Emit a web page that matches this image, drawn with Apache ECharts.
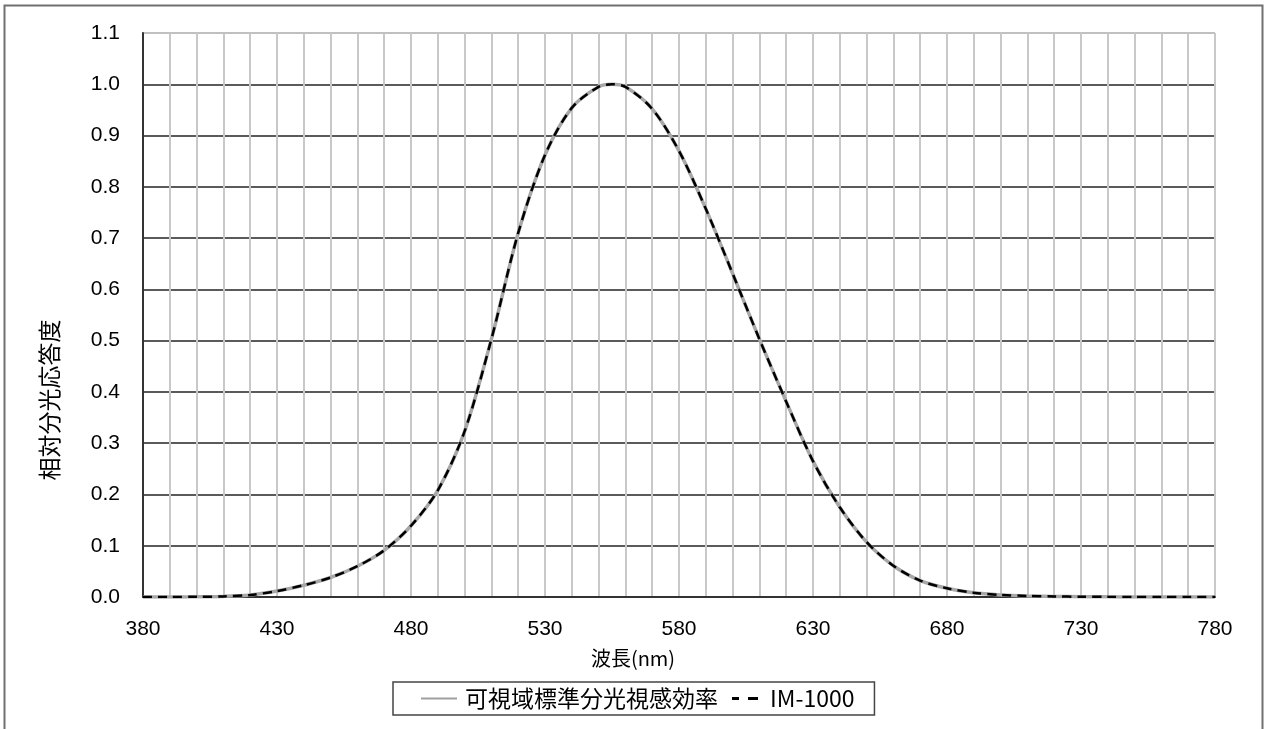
<!DOCTYPE html>
<html>
<head>
<meta charset="utf-8">
<script src="https://cdn.jsdelivr.net/npm/echarts@6/dist/echarts.min.js"></script>
<style>
	html, body { margin: 0; padding: 0; background: #fff; }
	#main { width: 1264px; height: 729px; }
</style>
</head>
<body>
<div id="main"></div>
<script>
// 波長 (nm)
const wavelengths = [380, 390, 400, 410, 420, 430, 440, 450, 460, 470, 480, 490, 500, 510, 520, 530, 540, 550, 555, 560, 570, 580, 590, 600, 610, 620, 630, 640, 650, 660, 670, 680, 690, 700, 710, 720, 730, 740, 750, 760, 770, 780];
// 可視域標準分光視感効率
const standardV = [0.00004, 0.00012, 0.0004, 0.0012, 0.004, 0.0116, 0.023, 0.038, 0.06, 0.091, 0.139, 0.208, 0.323, 0.503, 0.71, 0.862, 0.954, 0.995, 1.0, 0.995, 0.952, 0.87, 0.757, 0.631, 0.503, 0.381, 0.265, 0.175, 0.107, 0.061, 0.032, 0.017, 0.0082, 0.0041, 0.0021, 0.00105, 0.00052, 0.00025, 0.00012, 0.00006, 0.00003, 0.000015];
// IM-1000
const im1000 = [0.00004, 0.00012, 0.0004, 0.0012, 0.004, 0.0116, 0.023, 0.038, 0.06, 0.091, 0.139, 0.208, 0.323, 0.503, 0.71, 0.862, 0.954, 0.995, 1.0, 0.995, 0.952, 0.87, 0.757, 0.631, 0.503, 0.381, 0.265, 0.175, 0.107, 0.061, 0.032, 0.017, 0.0082, 0.0041, 0.0021, 0.00105, 0.00052, 0.00025, 0.00012, 0.00006, 0.00003, 0.000015];

const labelFont = "'Liberation Sans', Arial, 'Noto Sans CJK JP', sans-serif";
const jpFont = "'Noto Sans CJK JP', sans-serif";

// 水平グリッド: 最上段だけ薄いグレー
const hLineColors = [];
for (let i = 0; i < 11; i++) hLineColors.push("#5a5a5a");
hLineColors.push("#c0c0c0");

// 凡例アイコン (40x14 の枠に合わせるため四隅に極小の点を入れる)
const iconBox = "M0,0 L0.01,0 L0,0.01 Z M40,14 L39.99,14 L40,13.99 Z ";
const solidIcon = "path://" + iconBox + "M1,6 L37,6 L37,8 L1,8 Z";
const dashIcon = "path://" + iconBox + "M7,5.6 L14,5.6 L14,8.4 L7,8.4 Z M23,5.6 L33,5.6 L33,8.4 L23,8.4 Z";

const chartDom = document.getElementById("main");
const myChart = echarts.init(chartDom);

const option = {
	animation: false,
	backgroundColor: "#fff",
	grid: {
		left: 143,
		right: 49,
		top: 33,
		bottom: 132
	},
	xAxis: {
		type: "value",
		min: 380,
		max: 780,
		interval: 50,
		axisLine: { show: true, lineStyle: { color: "#333", width: 2 } },
		axisTick: { show: false },
		axisLabel: { fontFamily: labelFont, fontSize: 21, color: "#000", margin: 22 },
		splitLine: { show: true, lineStyle: { color: "#c8c8c8", width: 2 } },
		minorTick: { show: false, splitNumber: 5 },
		minorSplitLine: { show: true, lineStyle: { color: "#c8c8c8", width: 2 } }
	},
	yAxis: {
		type: "value",
		min: 0,
		max: 1.1,
		interval: 0.1,
		axisLine: { show: true, lineStyle: { color: "#333", width: 2 } },
		axisTick: { show: false },
		axisLabel: {
			fontFamily: labelFont,
			fontSize: 21,
			color: "#000",
			margin: 23,
			formatter: v => v.toFixed(1)
		},
		splitLine: { show: true, lineStyle: { color: hLineColors, width: 2 } }
	},
	legend: {
		left: 393,
		top: 682,
		padding: [5, 20, 5, 27],
		borderColor: "#444",
		borderWidth: 1.5,
		itemWidth: 40,
		itemHeight: 14,
		itemGap: 7,
		textStyle: { fontFamily: jpFont, fontSize: 23, color: "#000" },
		data: [
			{ name: "可視域標準分光視感効率", icon: solidIcon, itemStyle: { color: "#a0a0a0" } },
			{ name: "IM-1000", icon: dashIcon, itemStyle: { color: "#000" } }
		]
	},
	graphic: [
		{
			type: "rect",
			shape: { x: 4.5, y: 5.5, width: 1258, height: 800 },
			style: { fill: "none", stroke: "#707070", lineWidth: 2 },
			silent: true
		},
		{
			type: "text",
			x: 49,
			y: 400,
			rotation: Math.PI / 2,
			style: {
				text: "相対分光応答度",
				fontFamily: jpFont,
				fontSize: 23,
				fill: "#000",
				align: "center",
				verticalAlign: "middle"
			}
		},
		{
			type: "text",
			x: 633,
			y: 658,
			style: {
				text: "波長(nm)",
				fontFamily: jpFont,
				fontSize: 20,
				fill: "#000",
				align: "center",
				verticalAlign: "middle"
			}
		}
	],
	series: [
		{
			name: "可視域標準分光視感効率",
			type: "line",
			smooth: 0.3,
			showSymbol: false,
			data: wavelengths.map((w, i) => [w, standardV[i]]),
			lineStyle: { color: "#a8a8a8", width: 3.5 },
			itemStyle: { color: "#a8a8a8" },
			z: 3
		},
		{
			name: "IM-1000",
			type: "line",
			smooth: 0.3,
			showSymbol: false,
			data: wavelengths.map((w, i) => [w, im1000[i]]),
			lineStyle: { color: "#000", width: 2.5, type: [9, 6] },
			itemStyle: { color: "#000" },
			z: 4
		}
	]
};

myChart.setOption(option);
</script>
</body>
</html>
